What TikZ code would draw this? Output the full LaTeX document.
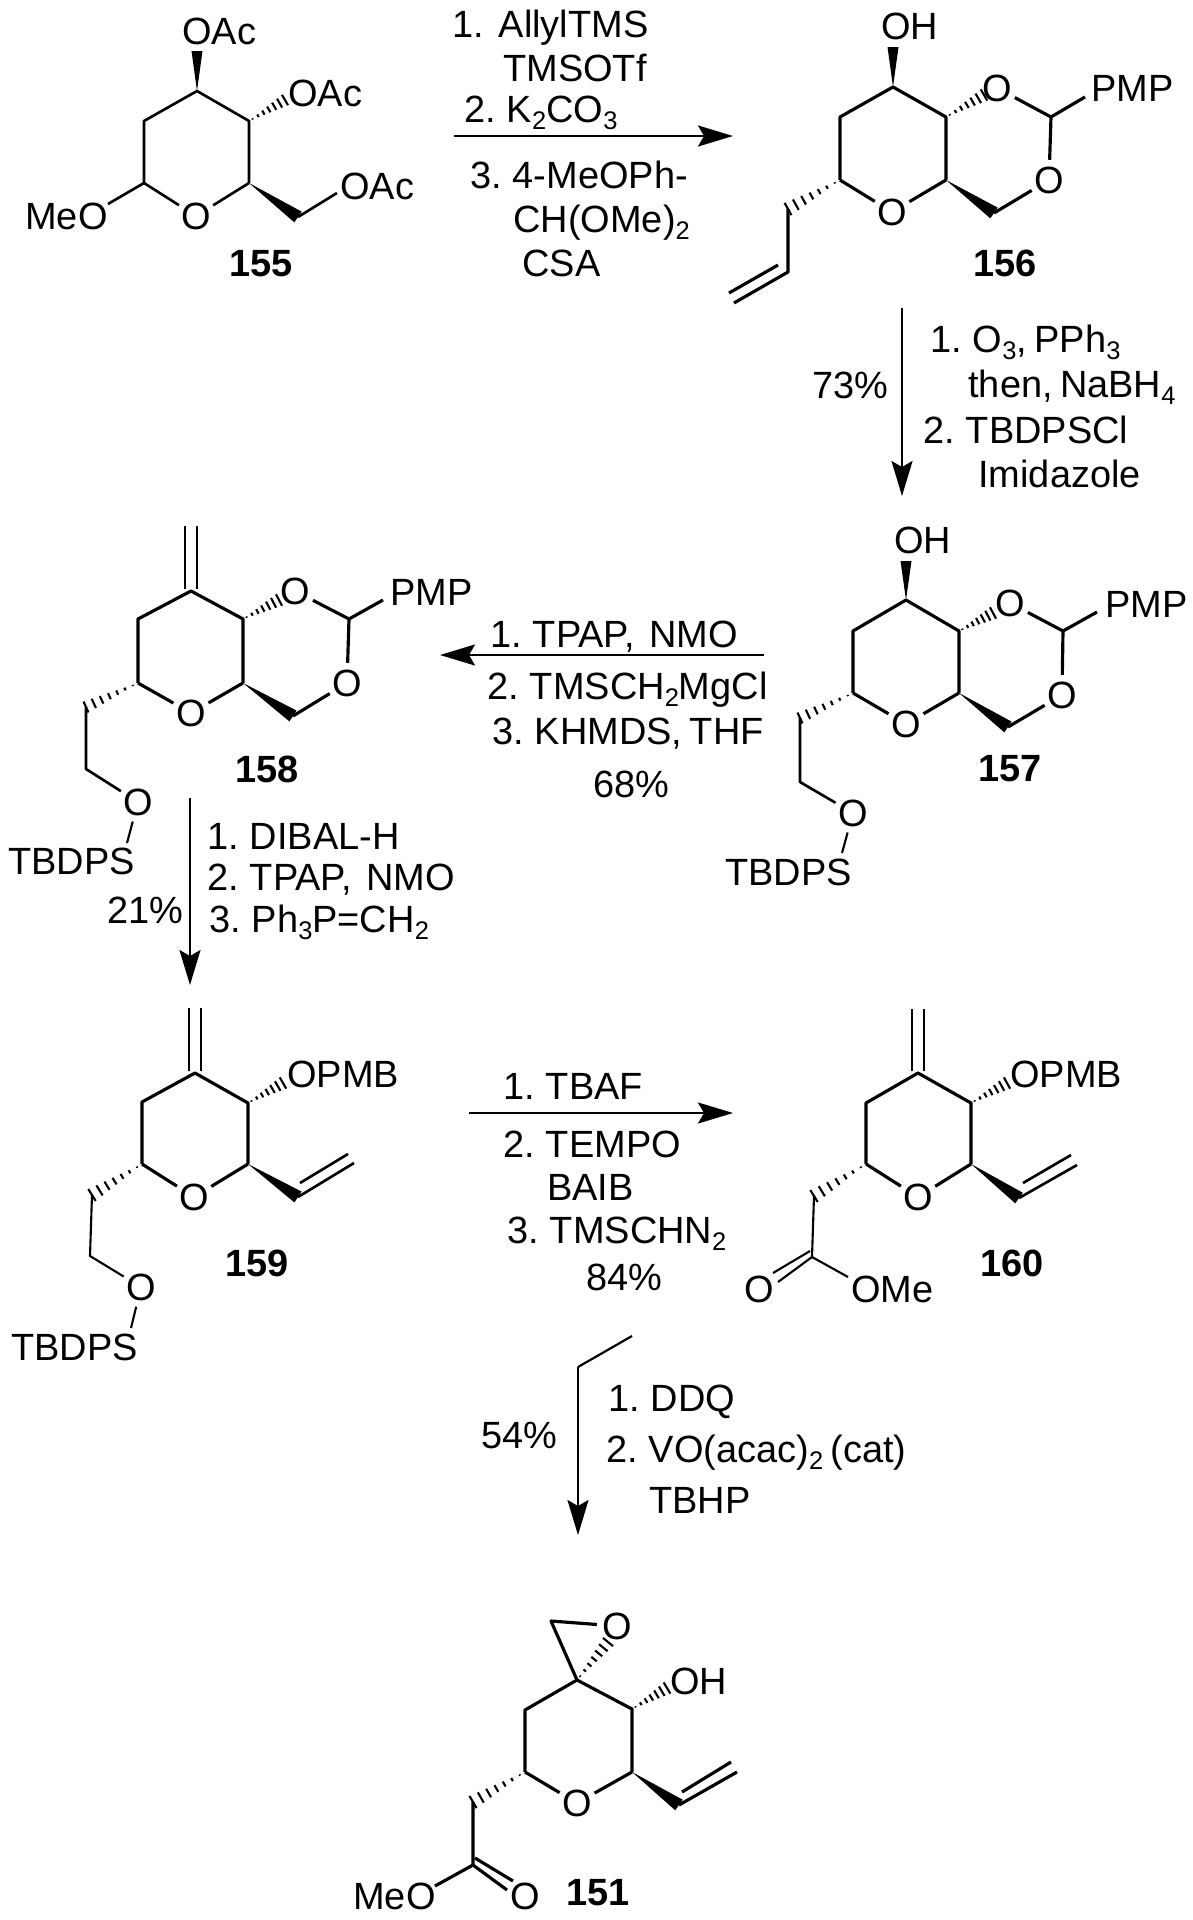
\documentclass[tikz,border=0pt]{standalone}
\usepackage{fontspec}
\setmainfont[WordSpace=0.7]{Liberation Sans}
\usetikzlibrary{calc,arrows.meta}
\newcommand{\subs}[1]{\raisebox{-0.2em}{\fontsize{14.5}{14.5}\selectfont #1}}
\newcommand{\wdg}[3]{\fill (#1) -- ($(#2)!#3!90:(#1)$) -- ($(#2)!#3!-90:(#1)$) -- cycle;}
\newcommand{\hsh}[3]{\foreach \hh in {0.1,0.25,...,1.0}{%
  \coordinate (hp) at ($(#1)!\hh!(#2)$);
  \draw[hashline] ($(hp)!\hh*#3!90:(#1)$) -- ($(hp)!\hh*#3!-90:(#1)$);}}
\tikzset{
  x=0.02cm,y=-0.02cm,
  txt/.style={anchor=base west,inner sep=0pt,font=\fontsize{21.6}{25}\selectfont},
  atom/.style={circle,inner sep=0pt,font=\fontsize{21.6}{25}\selectfont},
  cmpd/.style={inner sep=0pt,font=\fontsize{21.6}{25}\selectfont\bfseries},
  bond/.style={line width=1.8pt},
  bondm/.style={line width=1.5pt},
  bondt/.style={line width=1.2pt},
  hashline/.style={line width=1.2pt},
  rxnline/.style={line width=1.25pt},
  rxn/.style={rxnline,-{Stealth[length=0.7cm,width=0.42cm,inset=0.12cm]}},
}
\begin{document}
\begin{tikzpicture}
\fill[white] (0,0) rectangle (1193,1920);
\useasboundingbox (0,0) rectangle (1193,1920);

% ---------- 155
\coordinate (a1) at (197,91); \coordinate (a2) at (249,121); \coordinate (a3) at (249,183);
\coordinate (a5) at (144,183); \coordinate (a6) at (144,121);
\node[atom] (aO) at (196,216) {O};
\coordinate (aW) at (197,51);
\coordinate (aH) at (285,100);
\coordinate (aC) at (298,217);
\coordinate (aE) at (337,193);
\coordinate (aM) at (108,204);
\node[txt] (aoac1) at (182,44) {OAc};
\node[txt] (aoac2) at (288,106) {OAc};
\node[txt] (aoac3) at (340,199) {OAc};
\node[txt] (ameo) at (25,229) {MeO};
\node[cmpd] (al) at (261,264) {155};
\draw[bondm,line join=round] (a5) -- (a6) -- (a1) -- (a2) -- (a3);
\draw[bondm] (a5) -- (aO); \draw[bondm] (a3) -- (aO);
\draw[bondm] (a5) -- (aM); \draw[bondm] (aC) -- (aE);
\wdg{a1}{aW}{0.11cm}
\wdg{a3}{aC}{0.13cm}
\hsh{a2}{aH}{0.12cm}

% ---------- arrow 155 -> 156
\coordinate (r1s) at (454,136); \coordinate (r1e) at (733,136);
\draw[rxn] (r1s) -- (r1e);
\node[txt] (r1a) at (452,37) {1.\ \ AllylTMS};
\node[txt] (r1b) at (503,81) {TMSOTf};
\node[txt] (r1c) at (464,122) {2. K\subs{2}CO\subs{3}};
\node[txt] (r1d) at (470,188) {3. 4-MeOPh-};
\node[txt] (r1f) at (513,232) {CH(OMe)\subs{2}};
\node[txt] (r1g) at (522,276) {CSA};

% ---------- 156
\coordinate (b1) at (893,87); \coordinate (b2) at (946,117); \coordinate (b3) at (946,180);
\coordinate (b5) at (840,180); \coordinate (b6) at (840,117);
\node[atom] (bO) at (892,212) {O};
\node[atom] (bO2) at (997,88) {O};
\node[atom] (bO3) at (1049,180) {O};
\coordinate (bW) at (893,47);
\coordinate (bH) at (984,95);
\coordinate (bA) at (1051,117);
\coordinate (bP) at (1085,97);
\coordinate (bC) at (994,213);
\coordinate (bAl) at (788,209);
\coordinate (bAm) at (788,272);
\coordinate (bAt) at (734,303);
\coordinate (bAi) at (778,265);
\coordinate (bAj) at (729,293);
\node[txt] (boh) at (881,39) {OH};
\node[txt] (bpmp) at (1091,101) {PMP};
\node[cmpd] (bl) at (1005,263) {156};
\draw[bond,line join=round] (b5) -- (b6) -- (b1) -- (b2) -- (b3);
\draw[bond] (b5) -- (bO); \draw[bond] (b3) -- (bO);
\draw[bond] (bO2) -- (bA); \draw[bond] (bA) -- (bP); \draw[bond] (bA) -- (bO3); \draw[bond] (bC) -- (bO3);
\draw[bond,line join=round] (bAl) -- (bAm) -- (bAt); \draw[bond] (bAi) -- (bAj);
\wdg{b1}{bW}{0.11cm}
\wdg{b3}{bC}{0.13cm}
\hsh{b2}{bH}{0.13cm}
\hsh{b5}{bAl}{0.14cm}

% ---------- arrow 156 -> 157
\coordinate (r2s) at (902,308); \coordinate (r2e) at (902,496);
\draw[rxn] (r2s) -- (r2e);
\node[txt] (r2p) at (812,398) {73\%};
\node[txt] (r2a) at (930,352) {1. O\subs{3}, PPh\subs{3}};
\node[txt] (r2b) at (968,397) {then, NaBH\subs{4}};
\node[txt] (r2c) at (923,443) {2. TBDPSCl};
\node[txt] (r2d) at (978,487) {Imidazole};

% ---------- 157
\coordinate (c1) at (906,600); \coordinate (c2) at (959,631); \coordinate (c3) at (959,693);
\coordinate (c5) at (853,693); \coordinate (c6) at (853,631);
\node[atom] (cO) at (906,724) {O};
\node[atom] (cO2) at (1010,603) {O};
\node[atom] (cO3) at (1062,695) {O};
\coordinate (cW) at (906,561);
\coordinate (cH) at (993,613);
\coordinate (cA) at (1063,631);
\coordinate (cP) at (1097,612);
\coordinate (cC) at (1008,727);
\coordinate (cCh) at (800,718);
\coordinate (cCi) at (800,782);
\node[atom] (cO4) at (853,813) {O};
\coordinate (cS) at (842,853);
\node[txt] (coh) at (894,553) {OH};
\node[txt] (cpmp) at (1105,617) {PMP};
\node[txt] (ctb) at (725,885) {TBDPS};
\node[cmpd] (cl) at (1010,769) {157};
\draw[bond,line join=round] (c5) -- (c6) -- (c1) -- (c2) -- (c3);
\draw[bond] (c5) -- (cO); \draw[bond] (c3) -- (cO);
\draw[bond] (cO2) -- (cA); \draw[bond] (cA) -- (cP); \draw[bond] (cA) -- (cO3); \draw[bond] (cC) -- (cO3);
\draw[bondm,line join=round] (cCh) -- (cCi) -- (cO4); \draw[bondt] (cO4) -- (cS);
\wdg{c1}{cW}{0.11cm}
\wdg{c3}{cC}{0.13cm}
\hsh{c2}{cH}{0.13cm}
\hsh{c5}{cCh}{0.12cm}

% ---------- arrow 157 -> 158
\coordinate (r3s) at (764,655); \coordinate (r3e) at (440,655);
\draw[rxn] (r3s) -- (r3e);
\node[txt] (r3a) at (490,647) {1. TPAP,\ \ NMO};
\node[txt] (r3b) at (487,699) {2. TMSCH\subs{2}MgCl};
\node[txt] (r3c) at (492,744) {3. KHMDS, THF};
\node[txt] (r3p) at (593,797) {68\%};

% ---------- 158
\coordinate (d1) at (191,591); \coordinate (d2) at (243,619); \coordinate (d3) at (243,683);
\coordinate (d5) at (138,683); \coordinate (d6) at (138,619);
\coordinate (dDa) at (185,589); \coordinate (dDb) at (185,526);
\coordinate (dDc) at (197,589); \coordinate (dDd) at (197,526);
\node[atom] (dO) at (191,713) {O};
\node[atom] (dO2) at (295,591) {O};
\node[atom] (dO3) at (347,683) {O};
\coordinate (dH) at (279,600);
\coordinate (dA) at (349,619);
\coordinate (dP) at (383,600);
\coordinate (dC) at (293,716);
\coordinate (dCh) at (86,707);
\coordinate (dCi) at (86,769);
\node[atom] (dO4) at (138,802) {O};
\coordinate (dS) at (127,843);
\node[txt] (dpmp) at (390,605) {PMP};
\node[txt] (dtb) at (8,874) {TBDPS};
\node[cmpd] (dl) at (267,769) {158};
\draw[bond,line join=round] (d5) -- (d6) -- (d1) -- (d2) -- (d3);
\draw[bond] (d5) -- (dO); \draw[bond] (d3) -- (dO);
\draw[bondm] (dDa) -- (dDb); \draw[bondm] (dDc) -- (dDd);
\draw[bond] (dO2) -- (dA); \draw[bond] (dA) -- (dP); \draw[bond] (dA) -- (dO3); \draw[bond] (dC) -- (dO3);
\draw[bondm,line join=round] (dCh) -- (dCi) -- (dO4); \draw[bondt] (dO4) -- (dS);
\wdg{d3}{dC}{0.13cm}
\hsh{d2}{dH}{0.13cm}
\hsh{d5}{dCh}{0.12cm}

% ---------- arrow 158 -> 159
\coordinate (r4s) at (190,798); \coordinate (r4e) at (190,985);
\draw[rxn] (r4s) -- (r4e);
\node[txt] (r4a) at (207,849) {1. DIBAL-H};
\node[txt] (r4b) at (207,890) {2. TPAP,\ \ NMO};
\node[txt] (r4c) at (209,932) {3. Ph\subs{3}P=CH\subs{2}};
\node[txt] (r4p) at (107,923) {21\%};

% ---------- 159
\coordinate (e1) at (195,1073); \coordinate (e2) at (248,1103); \coordinate (e3) at (248,1164);
\coordinate (e5) at (142,1164); \coordinate (e6) at (142,1102);
\coordinate (eDa) at (189,1071); \coordinate (eDb) at (189,1008);
\coordinate (eDc) at (201,1071); \coordinate (eDd) at (201,1008);
\node[atom] (eO) at (194,1197) {O};
\coordinate (eH) at (283,1083);
\coordinate (eV) at (298,1197); \coordinate (eVa) at (354,1163);
\coordinate (eVb) at (300,1183); \coordinate (eVc) at (348,1154);
\coordinate (eCh) at (92,1195);
\coordinate (eCi) at (90,1256);
\node[atom] (eO4) at (141,1287) {O};
\coordinate (eS) at (131,1328);
\node[txt] (eop) at (287,1087) {OPMB};
\node[txt] (etb) at (11,1360) {TBDPS};
\node[cmpd] (el) at (257,1263) {159};
\draw[bond,line join=round] (e5) -- (e6) -- (e1) -- (e2) -- (e3);
\draw[bond] (e5) -- (eO); \draw[bond] (e3) -- (eO);
\draw[bondm] (eDa) -- (eDb); \draw[bondm] (eDc) -- (eDd);
\draw[bondm] (eV) -- (eVa); \draw[bondm] (eVb) -- (eVc);
\draw[bondt,line join=round] (eCh) -- (eCi) -- (eO4); \draw[bondt] (eO4) -- (eS);
\wdg{e3}{eV}{0.13cm}
\hsh{e2}{eH}{0.13cm}
\hsh{e5}{eCh}{0.14cm}

% ---------- arrow 159 -> 160
\coordinate (r5s) at (469,1113); \coordinate (r5e) at (733,1113);
\draw[rxn] (r5s) -- (r5e);
\node[txt] (r5a) at (503,1099) {1. TBAF};
\node[txt] (r5b) at (503,1157) {2. TEMPO};
\node[txt] (r5c) at (547,1200) {BAIB};
\node[txt] (r5d) at (507,1243) {3. TMSCHN\subs{2}};
\node[txt] (r5p) at (586,1290) {84\%};

% ---------- 160
\coordinate (f1) at (918,1073); \coordinate (f2) at (971,1103); \coordinate (f3) at (971,1164);
\coordinate (f5) at (866,1164); \coordinate (f6) at (866,1103);
\coordinate (fDa) at (912,1071); \coordinate (fDb) at (912,1009);
\coordinate (fDc) at (924,1071); \coordinate (fDd) at (924,1009);
\node[atom] (fO) at (918,1197) {O};
\coordinate (fH) at (1007,1083);
\coordinate (fV) at (1019,1198); \coordinate (fVa) at (1077,1165);
\coordinate (fVb) at (1023,1183); \coordinate (fVc) at (1071,1155);
\coordinate (fCh) at (814,1196);
\coordinate (fCi) at (812,1257);
\coordinate (fCe) at (778,1282);
\coordinate (fCf) at (810,1251); \coordinate (fCg) at (773,1273);
\coordinate (fM) at (848,1277);
\node[atom] (foc) at (759,1289) {O};
\node[txt] (fom) at (851,1302) {OMe};
\node[txt] (fop) at (1010,1087) {OPMB};
\node[cmpd] (fl) at (1012,1263) {160};
\draw[bond,line join=round] (f5) -- (f6) -- (f1) -- (f2) -- (f3);
\draw[bond] (f5) -- (fO); \draw[bond] (f3) -- (fO);
\draw[bondm] (fDa) -- (fDb); \draw[bondm] (fDc) -- (fDd);
\draw[bondm] (fV) -- (fVa); \draw[bondm] (fVb) -- (fVc);
\draw[bondt,line join=round] (fCh) -- (fCi) -- (fCe); \draw[bondt] (fCf) -- (fCg); \draw[bondt] (fCi) -- (fM);
\wdg{f3}{fV}{0.13cm}
\hsh{f2}{fH}{0.13cm}
\hsh{f5}{fCh}{0.14cm}

% ---------- arrow 160 -> 151
\coordinate (r6a) at (632,1336); \coordinate (r6s) at (578,1367); \coordinate (r6e) at (578,1535);
\draw[rxnline] (r6a) -- (r6s);
\draw[rxn] (r6s) -- (r6e);
\node[txt] (r6p) at (481,1448) {54\%};
\node[txt] (r6b) at (608,1411) {1. DDQ};
\node[txt] (r6c) at (606,1462) {2. VO(acac)\subs{2} (cat)};
\node[txt] (r6d) at (649,1513) {TBHP};

% ---------- 151
\coordinate (g1) at (577,1680); \coordinate (g2) at (632,1709); \coordinate (g3) at (632,1772);
\coordinate (g5) at (525,1772); \coordinate (g6) at (525,1710);
\node[atom] (gO) at (577,1803) {O};
\node[atom] (gOe) at (617,1626) {O};
\coordinate (gEc) at (551,1621);
\coordinate (gEh) at (608,1642);
\coordinate (gH) at (667,1688);
\coordinate (gV) at (679,1805); \coordinate (gVa) at (737,1772);
\coordinate (gVb) at (682,1792); \coordinate (gVc) at (731,1762);
\coordinate (gCh) at (473,1802);
\coordinate (gCi) at (473,1865);
\coordinate (gMe) at (435,1886);
\coordinate (gCe) at (507,1890);
\coordinate (gCf) at (475,1858); \coordinate (gCg) at (513,1881);
\node[txt] (gohl) at (670,1694) {OH};
\node[txt] (gmeo) at (353,1909) {MeO};
\node[atom] (gOc) at (525,1896) {O};
\node[cmpd] (gl) at (598,1893) {151};
\draw[bond,line join=round] (g5) -- (g6) -- (g1) -- (g2) -- (g3);
\draw[bond] (g5) -- (gO); \draw[bond] (g3) -- (gO);
\draw[bond,line join=round] (g1) -- (gEc) -- (gOe);
\draw[bond] (gV) -- (gVa); \draw[bond] (gVb) -- (gVc);
\draw[bond,line join=round] (gCh) -- (gCi) -- (gMe); \draw[bond] (gCi) -- (gCe); \draw[bond] (gCf) -- (gCg);
\wdg{g3}{gV}{0.13cm}
\hsh{g1}{gEh}{0.13cm}
\hsh{g2}{gH}{0.13cm}
\hsh{g5}{gCh}{0.14cm}
\end{tikzpicture}
\end{document}
